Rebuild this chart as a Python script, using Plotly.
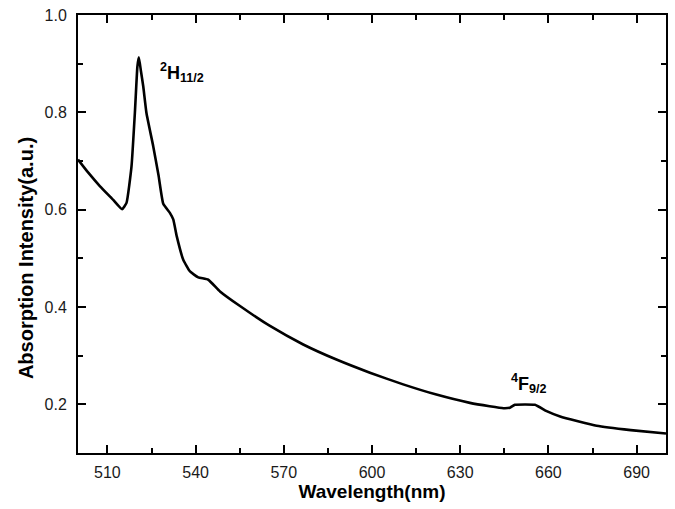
import plotly.graph_objects as go

wavelength = [500, 503.5, 507.5, 512, 515.0, 516.5, 518.2, 519.4, 520.2, 520.7, 521.4, 522.2, 523.3,
              525.6, 527.4, 529.0, 531.3, 532.4, 533.6, 535.8, 538.1, 540.9, 544.3, 548.3, 555.1,
              565.3, 576.6, 587.9, 599.3, 610.6, 621.9, 633.3, 640.0, 644.7, 646.9, 648.6, 655.4,
              659.4, 664.0, 676.4, 688.0, 700.0]
absorbance = [0.703, 0.676, 0.648, 0.620, 0.601, 0.614, 0.689, 0.805, 0.894, 0.913, 0.885, 0.853, 0.798,
              0.730, 0.670, 0.612, 0.593, 0.580, 0.545, 0.497, 0.473, 0.461, 0.456, 0.432, 0.402,
              0.361, 0.323, 0.292, 0.265, 0.241, 0.220, 0.203, 0.196, 0.192, 0.193, 0.199, 0.199,
              0.186, 0.175, 0.156, 0.147, 0.140]

x_ticks = [510, 540, 570, 600, 630, 660, 690]
y_ticks = [0.2, 0.4, 0.6, 0.8, 1.0]

FONT = "Liberation Sans, Arial, sans-serif"

fig = go.Figure()
fig.add_trace(go.Scatter(x=wavelength, y=absorbance, mode="lines",
                         line=dict(color="black", width=2.6, shape="spline", smoothing=0.4),
                         hoverinfo="skip", showlegend=False))

axis_common = dict(showline=True, linecolor="black", linewidth=2, mirror="allticks",
                   ticks="inside", ticklen=8, tickwidth=2, tickcolor="black",
                   showgrid=False, zeroline=False, automargin=False,
                   tickfont=dict(family=FONT, size=16, color="#1a1a1a"))

fig.update_xaxes(range=[500, 700], tickvals=x_ticks, ticktext=[str(v) for v in x_ticks],
                 ticklabelstandoff=4,
                 minor=dict(ticks="inside", ticklen=5, tickwidth=2, tickcolor="black",
                            tick0=495, dtick=15),
                 title=dict(text="<b>Wavelength(nm)</b>", standoff=4,
                            font=dict(family=FONT, size=19, color="black")),
                 **axis_common)
fig.update_yaxes(range=[0.1, 1.0], tickvals=y_ticks, ticktext=[f"{v:.1f}" for v in y_ticks],
                 ticklabelstandoff=6,
                 minor=dict(ticks="inside", ticklen=5, tickwidth=2, tickcolor="black",
                            tick0=0.1, dtick=0.1),
                 **axis_common)

# y-axis title (placed as in the reference, slightly below the axis centre)
fig.add_annotation(xref="paper", yref="paper", x=-0.0884, y=0.445, textangle=-90,
                   text="<b>Absorption Intensity(a.u.)</b>", showarrow=False,
                   xanchor="center", yanchor="middle",
                   font=dict(family=FONT, size=20, color="black"))

ann_font = dict(family=FONT, size=18, color="black")
fig.add_annotation(x=535.4, y=0.881, text="<b><sup>2</sup>H<sub>11/2</sub></b>", showarrow=False, font=ann_font)
fig.add_annotation(x=653.5, y=0.243, text="<b><sup>4</sup>F<sub>9/2</sub></b>", showarrow=False, font=ann_font)

fig.update_layout(width=675, height=509, margin=dict(l=78, r=9, t=15, b=56),
                  paper_bgcolor="white", plot_bgcolor="white")

fig.write_html("out.html", config={"displayModeBar": False},
               post_script="document.body.style.margin='0';document.body.style.padding='0';")
